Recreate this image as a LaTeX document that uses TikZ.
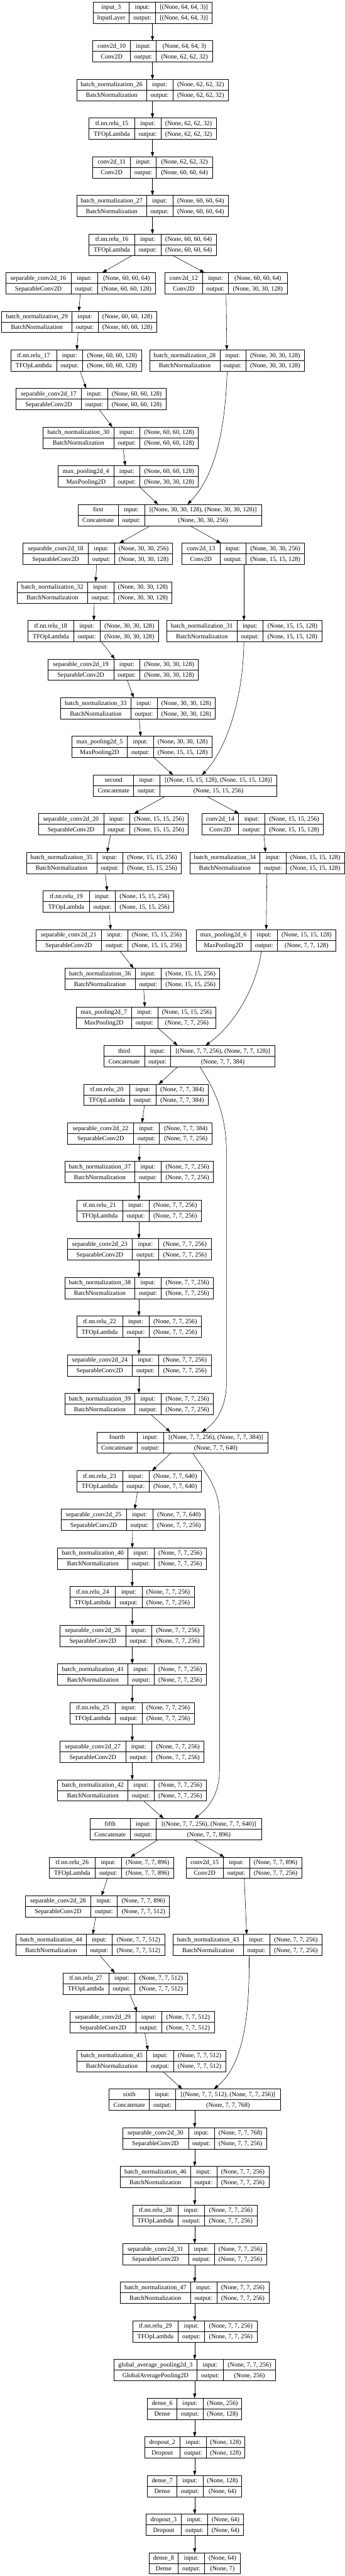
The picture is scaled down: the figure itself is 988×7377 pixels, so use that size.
\documentclass[tikz,border=0pt]{standalone}
\usepackage{fontspec}
\setmainfont{Liberation Serif}
\usetikzlibrary{calc,arrows.meta}
\newcommand\lfont{\fontsize{13.7pt}{16pt}\selectfont}
\tikzset{
  lay/.style={draw, line width=1pt, inner sep=0pt, outer sep=0pt, minimum height=45.75pt, fill=white},
  divline/.style={line width=0.8pt},
  lbl/.style={anchor=base, inner sep=0pt, font=\lfont},
  conn/.style={-{Triangle[length=9.75pt,width=6.75pt]}, line width=0.75pt},
}
% name,row,x0,x1,x2,x3,title,type,in  + {out}
\newcommand\lbox[9]{\def\lbName{#1}\def\lbRow{#2}\def\lbA{#3}\def\lbB{#4}\def\lbC{#5}\def\lbD{#6}\def\lbTitle{#7}\def\lbType{#8}\def\lbIn{#9}\lboxfinish}
\newcommand\lboxfinish[1]{%
  \pgfmathsetmacro\lbT{6+110.67*\lbRow}%
  \pgfmathsetmacro\lbM{\lbT+30.5}%
  \pgfmathsetmacro\lbBt{\lbT+61}%
  \pgfmathsetmacro\lbW{(\lbD-\lbA)*0.75}%
  \node[lay, minimum width=\lbW pt, anchor=north west] (\lbName) at (\lbA,\lbT) {};
  \draw[divline] (\lbB,\lbT) -- (\lbB,\lbBt) (\lbC,\lbT) -- (\lbC,\lbBt) (\lbA,\lbM) -- (\lbD,\lbM);
  \node[lbl] (\lbName-n) at ({(\lbA+\lbB)/2},{\lbT+21}) {\lbTitle};
  \node[lbl] (\lbName-t) at ({(\lbA+\lbB)/2},{\lbT+51.5}) {\lbType};
  \node[lbl] (\lbName-il) at ({(\lbB+\lbC)/2},{\lbT+21}) {input:};
  \node[lbl] (\lbName-ol) at ({(\lbB+\lbC)/2},{\lbT+51.5}) {output:};
  \node[lbl] (\lbName-i) at ({(\lbC+\lbD)/2},{\lbT+21}) {\lbIn};
  \node[lbl] (\lbName-o) at ({(\lbC+\lbD)/2},{\lbT+51.5}) {#1};
}
\newcommand\conE[4]{\draw[conn] ($(#1.south west)+(#2,0)$) -- ($(#3.north west)+(#4,0)$);}
\begin{document}
\begin{tikzpicture}[x=0.75pt,y=-0.75pt]
\fill[white] (0,0) rectangle (988,7377);
\useasboundingbox (0,0) rectangle (988,7377);

\lbox{input3}{0}{267}{370}{446}{608}{input\_3}{InputLayer}{[(None, 64, 64, 3)]}{[(None, 64, 64, 3)]}
\lbox{conv10}{1}{266}{374}{448}{609}{conv2d\_10}{Conv2D}{(None, 64, 64, 3)}{(None, 62, 62, 32)}
\lbox{bn26}{2}{220}{420}{495}{655}{batch\_normalization\_26}{BatchNormalization}{(None, 62, 62, 32)}{(None, 62, 62, 32)}
\lbox{relu15}{3}{255}{386}{461}{620}{tf.nn.relu\_15}{TFOpLambda}{(None, 62, 62, 32)}{(None, 62, 62, 32)}
\lbox{conv11}{4}{266}{374}{448}{609}{conv2d\_11}{Conv2D}{(None, 62, 62, 32)}{(None, 60, 60, 64)}
\lbox{bn27}{5}{220}{420}{495}{655}{batch\_normalization\_27}{BatchNormalization}{(None, 60, 60, 64)}{(None, 60, 60, 64)}
\lbox{relu16}{6}{255}{386}{461}{620}{tf.nn.relu\_16}{TFOpLambda}{(None, 60, 60, 64)}{(None, 60, 60, 64)}
\lbox{sep16}{7}{16}{204}{279}{446}{separable\_conv2d\_16}{SeparableConv2D}{(None, 60, 60, 64)}{(None, 60, 60, 128)}
\lbox{conv12}{7}{473}{580}{655}{823}{conv2d\_12}{Conv2D}{(None, 60, 60, 64)}{(None, 30, 30, 128)}
\lbox{bn29}{8}{5}{206}{281}{449}{batch\_normalization\_29}{BatchNormalization}{(None, 60, 60, 128)}{(None, 60, 60, 128)}
\lbox{relu17}{9}{31}{162}{237}{405}{tf.nn.relu\_17}{TFOpLambda}{(None, 60, 60, 128)}{(None, 60, 60, 128)}
\lbox{bn28}{9}{429}{630}{704}{873}{batch\_normalization\_28}{BatchNormalization}{(None, 30, 30, 128)}{(None, 30, 30, 128)}
\lbox{sep17}{10}{46}{233}{308}{476}{separable\_conv2d\_17}{SeparableConv2D}{(None, 60, 60, 128)}{(None, 60, 60, 128)}
\lbox{bn30}{11}{124}{326}{401}{568}{batch\_normalization\_30}{BatchNormalization}{(None, 60, 60, 128)}{(None, 60, 60, 128)}
\lbox{mp4}{12}{167}{326}{401}{568}{max\_pooling2d\_4}{MaxPooling2D}{(None, 60, 60, 128)}{(None, 30, 30, 128)}
\lbox{first}{13}{224}{339}{414}{750}{first}{Concatenate}{[(None, 30, 30, 128), (None, 30, 30, 128)]}{(None, 30, 30, 256)}
\lbox{sep18}{14}{66}{253}{328}{495}{separable\_conv2d\_18}{SeparableConv2D}{(None, 30, 30, 256)}{(None, 30, 30, 128)}
\lbox{conv13}{14}{522}{630}{705}{873}{conv2d\_13}{Conv2D}{(None, 30, 30, 256)}{(None, 15, 15, 128)}
\lbox{bn32}{15}{49}{251}{326}{493}{batch\_normalization\_32}{BatchNormalization}{(None, 30, 30, 128)}{(None, 30, 30, 128)}
\lbox{relu18}{16}{80}{211}{287}{454}{tf.nn.relu\_18}{TFOpLambda}{(None, 30, 30, 128)}{(None, 30, 30, 128)}
\lbox{bn31}{16}{478}{679}{754}{922}{batch\_normalization\_31}{BatchNormalization}{(None, 15, 15, 128)}{(None, 15, 15, 128)}
\lbox{sep19}{17}{137}{326}{401}{568}{separable\_conv2d\_19}{SeparableConv2D}{(None, 30, 30, 128)}{(None, 30, 30, 128)}
\lbox{bn33}{18}{174}{375}{450}{617}{batch\_normalization\_33}{BatchNormalization}{(None, 30, 30, 128)}{(None, 30, 30, 128)}
\lbox{mp5}{19}{206}{365}{440}{607}{max\_pooling2d\_5}{MaxPooling2D}{(None, 30, 30, 128)}{(None, 15, 15, 128)}
\lbox{second}{20}{268}{383}{458}{794}{second}{Concatenate}{[(None, 15, 15, 128), (None, 15, 15, 128)]}{(None, 15, 15, 256)}
\lbox{sep20}{21}{110}{297}{372}{540}{separable\_conv2d\_20}{SeparableConv2D}{(None, 15, 15, 256)}{(None, 15, 15, 256)}
\lbox{conv14}{21}{578}{684}{759}{927}{conv2d\_14}{Conv2D}{(None, 15, 15, 256)}{(None, 15, 15, 128)}
\lbox{bn35}{22}{76}{277}{352}{520}{batch\_normalization\_35}{BatchNormalization}{(None, 15, 15, 256)}{(None, 15, 15, 256)}
\lbox{bn34}{22}{544}{745}{820}{987}{batch\_normalization\_34}{BatchNormalization}{(None, 15, 15, 128)}{(None, 15, 15, 128)}
\lbox{relu19}{23}{124}{256}{331}{498}{tf.nn.relu\_19}{TFOpLambda}{(None, 15, 15, 256)}{(None, 15, 15, 256)}
\lbox{sep21}{24}{103}{291}{366}{533}{separable\_conv2d\_21}{SeparableConv2D}{(None, 15, 15, 256)}{(None, 15, 15, 256)}
\lbox{mp6}{24}{562}{719}{795}{962}{max\_pooling2d\_6}{MaxPooling2D}{(None, 15, 15, 128)}{(None, 7, 7, 128)}
\lbox{bn36}{25}{186}{387}{462}{630}{batch\_normalization\_36}{BatchNormalization}{(None, 15, 15, 256)}{(None, 15, 15, 256)}
\lbox{mp7}{26}{218}{377}{452}{619}{max\_pooling2d\_7}{MaxPooling2D}{(None, 15, 15, 256)}{(None, 7, 7, 256)}
\lbox{third}{27}{298}{414}{489}{788}{third}{Concatenate}{[(None, 7, 7, 256), (None, 7, 7, 128)]}{(None, 7, 7, 384)}
\lbox{relu20}{28}{241}{372}{447}{597}{tf.nn.relu\_20}{TFOpLambda}{(None, 7, 7, 384)}{(None, 7, 7, 384)}
\lbox{sep22}{29}{194}{383}{457}{608}{separable\_conv2d\_22}{SeparableConv2D}{(None, 7, 7, 384)}{(None, 7, 7, 256)}
\lbox{bn37}{30}{186}{386}{462}{612}{batch\_normalization\_37}{BatchNormalization}{(None, 7, 7, 256)}{(None, 7, 7, 256)}
\lbox{relu21}{31}{220}{351}{427}{577}{tf.nn.relu\_21}{TFOpLambda}{(None, 7, 7, 256)}{(None, 7, 7, 256)}
\lbox{sep23}{32}{193}{379}{455}{605}{separable\_conv2d\_23}{SeparableConv2D}{(None, 7, 7, 256)}{(None, 7, 7, 256)}
\lbox{bn38}{33}{186}{386}{462}{612}{batch\_normalization\_38}{BatchNormalization}{(None, 7, 7, 256)}{(None, 7, 7, 256)}
\lbox{relu22}{34}{220}{351}{427}{577}{tf.nn.relu\_22}{TFOpLambda}{(None, 7, 7, 256)}{(None, 7, 7, 256)}
\lbox{sep24}{35}{193}{379}{455}{605}{separable\_conv2d\_24}{SeparableConv2D}{(None, 7, 7, 256)}{(None, 7, 7, 256)}
\lbox{bn39}{36}{186}{386}{462}{612}{batch\_normalization\_39}{BatchNormalization}{(None, 7, 7, 256)}{(None, 7, 7, 256)}
\lbox{fourth}{37}{278}{393}{469}{768}{fourth}{Concatenate}{[(None, 7, 7, 256), (None, 7, 7, 384)]}{(None, 7, 7, 640)}
\lbox{relu23}{38}{220}{351}{427}{577}{tf.nn.relu\_23}{TFOpLambda}{(None, 7, 7, 640)}{(None, 7, 7, 640)}
\lbox{sep25}{39}{175}{362}{438}{588}{separable\_conv2d\_25}{SeparableConv2D}{(None, 7, 7, 640)}{(None, 7, 7, 256)}
\lbox{bn40}{40}{165}{367}{441}{592}{batch\_normalization\_40}{BatchNormalization}{(None, 7, 7, 256)}{(None, 7, 7, 256)}
\lbox{relu24}{41}{200}{331}{407}{557}{tf.nn.relu\_24}{TFOpLambda}{(None, 7, 7, 256)}{(None, 7, 7, 256)}
\lbox{sep26}{42}{172}{360}{435}{585}{separable\_conv2d\_26}{SeparableConv2D}{(None, 7, 7, 256)}{(None, 7, 7, 256)}
\lbox{bn41}{43}{165}{367}{441}{592}{batch\_normalization\_41}{BatchNormalization}{(None, 7, 7, 256)}{(None, 7, 7, 256)}
\lbox{relu25}{44}{200}{331}{407}{557}{tf.nn.relu\_25}{TFOpLambda}{(None, 7, 7, 256)}{(None, 7, 7, 256)}
\lbox{sep27}{45}{172}{360}{435}{585}{separable\_conv2d\_27}{SeparableConv2D}{(None, 7, 7, 256)}{(None, 7, 7, 256)}
\lbox{bn42}{46}{165}{367}{441}{592}{batch\_normalization\_42}{BatchNormalization}{(None, 7, 7, 256)}{(None, 7, 7, 256)}
\lbox{fifth}{47}{258}{373}{448}{749}{fifth}{Concatenate}{[(None, 7, 7, 256), (None, 7, 7, 640)]}{(None, 7, 7, 896)}
\lbox{relu26}{48}{141}{273}{348}{498}{tf.nn.relu\_26}{TFOpLambda}{(None, 7, 7, 896)}{(None, 7, 7, 896)}
\lbox{conv15}{48}{533}{640}{715}{865}{conv2d\_15}{Conv2D}{(None, 7, 7, 896)}{(None, 7, 7, 256)}
\lbox{sep28}{49}{73}{260}{336}{486}{separable\_conv2d\_28}{SeparableConv2D}{(None, 7, 7, 896)}{(None, 7, 7, 512)}
\lbox{bn44}{50}{46}{247}{322}{472}{batch\_normalization\_44}{BatchNormalization}{(None, 7, 7, 512)}{(None, 7, 7, 512)}
\lbox{bn43}{50}{496}{697}{773}{923}{batch\_normalization\_43}{BatchNormalization}{(None, 7, 7, 256)}{(None, 7, 7, 256)}
\lbox{relu27}{51}{180}{312}{386}{537}{tf.nn.relu\_27}{TFOpLambda}{(None, 7, 7, 512)}{(None, 7, 7, 512)}
\lbox{sep29}{52}{201}{389}{464}{614}{separable\_conv2d\_29}{SeparableConv2D}{(None, 7, 7, 512)}{(None, 7, 7, 512)}
\lbox{bn45}{53}{220}{421}{497}{647}{batch\_normalization\_45}{BatchNormalization}{(None, 7, 7, 512)}{(None, 7, 7, 512)}
\lbox{sixth}{54}{313}{428}{503}{804}{sixth}{Concatenate}{[(None, 7, 7, 512), (None, 7, 7, 256)]}{(None, 7, 7, 768)}
\lbox{sep30}{55}{351}{540}{614}{764}{separable\_conv2d\_30}{SeparableConv2D}{(None, 7, 7, 768)}{(None, 7, 7, 256)}
\lbox{bn46}{56}{345}{546}{621}{771}{batch\_normalization\_46}{BatchNormalization}{(None, 7, 7, 256)}{(None, 7, 7, 256)}
\lbox{relu28}{57}{380}{511}{586}{737}{tf.nn.relu\_28}{TFOpLambda}{(None, 7, 7, 256)}{(None, 7, 7, 256)}
\lbox{sep31}{58}{351}{540}{614}{764}{separable\_conv2d\_31}{SeparableConv2D}{(None, 7, 7, 256)}{(None, 7, 7, 256)}
\lbox{bn47}{59}{345}{546}{621}{771}{batch\_normalization\_47}{BatchNormalization}{(None, 7, 7, 256)}{(None, 7, 7, 256)}
\lbox{relu29}{60}{380}{511}{586}{737}{tf.nn.relu\_29}{TFOpLambda}{(None, 7, 7, 256)}{(None, 7, 7, 256)}
\lbox{gap}{61}{326}{565}{640}{790}{global\_average\_pooling2d\_3}{GlobalAveragePooling2D}{(None, 7, 7, 256)}{(None, 256)}
\lbox{dense6}{62}{423}{507}{582}{693}{dense\_6}{Dense}{(None, 256)}{(None, 128)}
\lbox{drop2}{63}{414}{516}{591}{702}{dropout\_2}{Dropout}{(None, 128)}{(None, 128)}
\lbox{dense7}{64}{423}{507}{582}{693}{dense\_7}{Dense}{(None, 128)}{(None, 64)}
\lbox{drop3}{65}{418}{520}{595}{698}{dropout\_3}{Dropout}{(None, 64)}{(None, 64)}
\lbox{dense8}{66}{427}{511}{586}{689}{dense\_8}{Dense}{(None, 64)}{(None, 7)}

% straight connectors
\conE{input3}{170}{conv10}{171}
\conE{conv10}{171}{bn26}{217}
\conE{bn26}{217}{relu15}{182}
\conE{relu15}{182}{conv11}{171}
\conE{conv11}{171}{bn27}{217}
\conE{bn27}{217}{relu16}{182}
\conE{relu16}{125}{sep16}{277}
\conE{relu16}{239}{conv12}{113}
\conE{sep16}{214}{bn29}{221}
\conE{conv12}{175}{bn28}{221}
\conE{bn29}{219}{relu17}{189}
\conE{relu17}{199}{sep17}{201}
\conE{sep17}{239}{bn30}{198}
\conE{bn30}{229}{mp4}{192}
\conE{mp4}{234}{first}{229}
\conE{first}{207}{sep18}{276}
\conE{first}{321}{conv13}{111}
\conE{sep18}{211}{bn32}{225}
\conE{conv13}{177}{bn31}{221}
\conE{bn32}{221}{relu18}{189}
\conE{relu18}{210}{sep19}{192}
\conE{sep19}{228}{bn33}{209}
\conE{bn33}{225}{mp5}{197}
\conE{mp5}{235}{second}{228}
\conE{second}{206}{sep20}{274}
\conE{second}{324}{conv14}{107}
\conE{sep20}{207}{bn35}{231}
\conE{conv14}{178}{bn34}{217}
\conE{bn35}{226}{relu19}{183}
\conE{bn34}{221}{mp6}{201}
\conE{relu19}{189}{sep21}{214}
\conE{sep21}{240}{bn36}{197}
\conE{bn36}{226}{mp7}{197}
\conE{mp7}{235}{third}{211}
\conE{third}{211}{relu20}{214}
\conE{relu20}{173}{sep22}{213}
\conE{sep22}{206}{bn37}{213}
\conE{bn37}{212}{relu21}{178}
\conE{relu21}{178}{sep23}{205}
\conE{sep23}{205}{bn38}{212}
\conE{bn38}{212}{relu22}{178}
\conE{relu22}{178}{sep24}{205}
\conE{sep24}{205}{bn39}{212}
\conE{bn39}{247}{fourth}{210}
\conE{fourth}{211}{relu23}{216}
\conE{relu23}{174}{sep25}{211}
\conE{sep25}{205}{bn40}{214}
\conE{bn40}{214}{relu24}{179}
\conE{relu24}{179}{sep26}{207}
\conE{sep26}{207}{bn41}{214}
\conE{bn41}{214}{relu25}{179}
\conE{relu25}{179}{sep27}{207}
\conE{sep27}{207}{bn42}{214}
\conE{bn42}{247}{fifth}{211}
\conE{fifth}{195}{relu26}{233}
\conE{fifth}{298}{conv15}{110}
\conE{relu26}{167}{sep28}{218}
\conE{conv15}{167}{bn43}{211}
\conE{sep28}{201}{bn44}{220}
\conE{bn44}{241}{relu27}{149}
\conE{relu27}{192}{sep29}{192}
\conE{sep29}{214}{bn45}{204}
\conE{bn45}{247}{sixth}{209}
\conE{sixth}{245}{sep30}{207}
\conE{sep30}{207}{bn46}{213}
\conE{bn46}{213}{relu28}{178}
\conE{relu28}{178}{sep31}{207}
\conE{sep31}{207}{bn47}{213}
\conE{bn47}{213}{relu29}{178}
\conE{relu29}{178}{gap}{232}
\conE{gap}{232}{dense6}{135}
\conE{dense6}{135}{drop2}{144}
\conE{drop2}{144}{dense7}{135}
\conE{dense7}{135}{drop3}{140}
\conE{drop3}{140}{dense8}{131}

% curved skip connectors
\draw[conn] ($(bn28.south west)+(222,0)$) .. controls (645,1250) and (610,1370) .. ($(first.north west)+(313,0)$);
\draw[conn] ($(bn31.south west)+(221,0)$) .. controls (697,2010) and (645,2150) .. ($(second.north west)+(311,0)$);
\draw[conn] ($(mp6.south west)+(187,0)$) .. controls (740,2800) and (690,2920) .. ($(third.north west)+(291,0)$);
\draw[conn] ($(third.south west)+(275,0)$) .. controls (600,3100) and (649,3170) .. (649,3300) -- (649,3960) .. controls (649,4040) and (610,4080) .. ($(fourth.north west)+(300,0)$);
\draw[conn] ($(fourth.south west)+(275,0)$) .. controls (590,4220) and (629,4260) .. (629,4340) -- (629,5070) .. controls (629,5140) and (595,5180) .. ($(fifth.north west)+(299,0)$);
\draw[conn] ($(bn43.south west)+(218,0)$) .. controls (716,5800) and (690,5920) .. ($(sixth.north west)+(300,0)$);
\end{tikzpicture}
\end{document}
